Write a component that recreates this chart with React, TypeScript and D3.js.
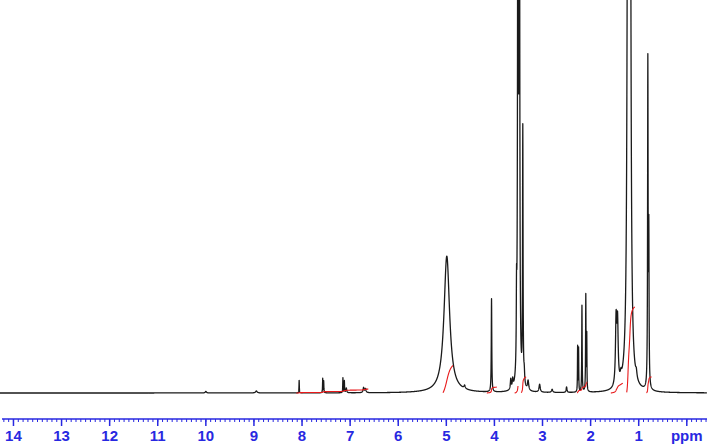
import React, { useEffect, useRef } from 'react';
import * as d3 from 'd3';

// Peak list (ppm, height in % of plot height, line width in ppm)
const peakShifts = [10.0, 8.95, 8.06, 7.57, 7.55, 7.15, 7.12, 7.08, 6.72, 6.68,
    4.99, 4.62, 4.06, 3.66, 3.62, 3.54, 3.51, 3.48, 3.41, 3.38, 3.30, 3.06, 2.80, 2.50,
    2.27, 2.25, 2.18, 2.10, 2.08, 1.47, 1.44, 1.37, 1.22, 1.18, 1.05, 0.81, 0.79];
const peakHeights = [0.4, 0.5, 3.2, 3.6, 3.0, 3.8, 3.0, 1.2, 1.3, 1.0,
    34.8, 0.8, 23.7, 2.6, 2.2, 17.0, 220, 160, 65.0, 3.0, 2.4, 2.0, 0.8, 1.4,
    11.5, 11.0, 22.0, 24.5, 14.0, 16.5, 15.5, 1.5, 260, 210, 1.6, 82.5, 38.0];
const peakWidths = [0.03, 0.04, 0.008, 0.008, 0.008, 0.008, 0.008, 0.02, 0.025, 0.025,
    0.14, 0.03, 0.012, 0.02, 0.02, 0.012, 0.015, 0.015, 0.012, 0.02, 0.03, 0.03, 0.03, 0.02,
    0.008, 0.008, 0.01, 0.01, 0.008, 0.03, 0.03, 0.03, 0.03, 0.03, 0.03, 0.012, 0.012];

// Integral regions (start ppm, end ppm, rise in % of plot height)
const integralStarts = [8.12, 5.07, 4.16, 3.58, 3.44, 2.28, 1.58, 1.25, 0.84];
const integralEnds = [6.62, 4.86, 3.95, 3.51, 3.34, 2.07, 1.33, 1.08, 0.73];
const integralRises = [1.0, 7.0, 1.5, 1.8, 4.1, 2.8, 2.5, 21.9, 4.1];

// Axis ticks
const tickValues = [14, 13, 12, 11, 10, 9, 8, 7, 6, 5, 4, 3, 2, 1, 0];
const tickLabels = ['14', '13', '12', '11', '10', '9', '8', '7', '6', '5', '4', '3', '2', '1', 'ppm'];

export default function App() {
    const ref = useRef<SVGSVGElement | null>(null);

    useEffect(() => {
        const width = 707;
        const baseY = 393;
        const axisY = 419;
        const blue = 'rgb(40, 40, 225)';

        const svg = d3.select(ref.current);
        svg.selectAll('*').remove();

        const x = d3.scaleLinear().domain([14.28, -0.42]).range([0, width]);
        const y = d3.scaleLinear().domain([0, 100]).range([baseY, 0]);

        // spectrum = sum of lorentzian lines
        const grid = d3.range(14.28, -0.42, -0.002);
        const intensity = (p: number) => {
            let s = 0;
            for (let i = 0; i < peakShifts.length; i++) {
                const d = (p - peakShifts[i]) / (peakWidths[i] / 2);
                s += peakHeights[i] / (1 + d * d);
            }
            return s;
        };
        const spectrum = grid.map(p => ({ p, v: intensity(p) }));

        const line = d3.line<{ p: number; v: number }>()
            .x(d => x(d.p))
            .y(d => y(d.v));

        svg.append('path')
            .datum(spectrum)
            .attr('d', line)
            .attr('fill', 'none')
            .attr('stroke', '#1a1a1a')
            .attr('stroke-width', 1.3)
            .attr('stroke-linejoin', 'round');

        // integrals
        integralStarts.forEach((lo, k) => {
            const hi = integralEnds[k];
            const pts = spectrum.filter(d => d.p <= lo && d.p >= hi);
            const total = d3.sum(pts, d => d.v);
            let acc = 0;
            const curve = pts.map(d => {
                acc += d.v;
                return { p: d.p, v: (acc / total) * integralRises[k] };
            });
            svg.append('path')
                .datum(curve)
                .attr('d', line)
                .attr('fill', 'none')
                .attr('stroke', '#e8191a')
                .attr('stroke-width', 1.1);
        });

        // ppm axis
        const axis = svg.append('g').attr('transform', `translate(0,${axisY})`);
        axis.append('line')
            .attr('x1', 2).attr('x2', width)
            .attr('stroke', blue).attr('stroke-width', 1.5);

        axis.selectAll('.minor')
            .data(d3.range(-4, 143).map(i => i / 10))
            .enter().append('line')
            .attr('x1', d => x(d)).attr('x2', d => x(d))
            .attr('y1', 0).attr('y2', 3)
            .attr('stroke', blue).attr('stroke-width', 1);

        axis.selectAll('.major')
            .data(tickValues)
            .enter().append('line')
            .attr('x1', d => x(d)).attr('x2', d => x(d))
            .attr('y1', 0).attr('y2', 7)
            .attr('stroke', blue).attr('stroke-width', 1.5);

        axis.selectAll('.label')
            .data(tickValues)
            .enter().append('text')
            .attr('x', d => x(d))
            .attr('y', 21.5)
            .attr('text-anchor', 'middle')
            .attr('fill', blue)
            .style('font-family', '"Liberation Sans", Arial, sans-serif')
            .style('font-weight', 'bold')
            .style('font-size', '15px')
            .text((d, i) => tickLabels[i]);
    }, []);

    return (
        <div style={{ position: 'absolute', left: 0, top: 0 }}>
            <svg ref={ref} width={707} height={445} style={{ display: 'block', background: '#fff' }}></svg>
        </div>
    );
}
